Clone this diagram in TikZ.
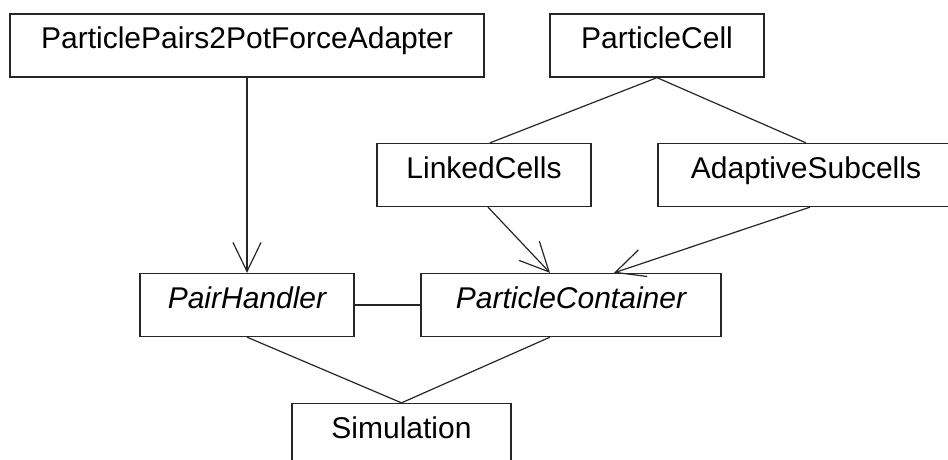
\documentclass[tikz,border=0pt]{standalone}
\usepackage{fontspec}
\setmainfont{Liberation Sans}
\usetikzlibrary{arrows.meta}
\begin{document}
\begin{tikzpicture}[x=1pt,y=-1pt,
  cls/.style={draw=black!85,line width=1.3pt,inner sep=0pt,minimum height=63pt,
    font=\fontsize{30}{35}\selectfont,text height=0.8em,text depth=0.2em,fill=white},
  link/.style={draw=black!85,line width=1.2pt},
  dep/.style={link,-{Straight Barb[length=29pt,width=28pt,line width=1.2pt]}}]
\useasboundingbox (0,0) rectangle (948,460);
\clip (0,0) rectangle (948,460);
\node[cls,minimum width=474pt] (pp) at (247,45.5) {ParticlePairs2PotForceAdapter};
\node[cls,minimum width=214pt] (pcell) at (657,45.5) {ParticleCell};
\node[cls,minimum width=214pt] (lc) at (484,175) {LinkedCells};
\node[cls,minimum width=296pt] (as) at (806,175) {AdaptiveSubcells};
\node[cls,minimum width=214pt] (ph) at (247,305) {\itshape PairHandler};
\node[cls,minimum width=300pt] (pcont) at (571,305) {\itshape ParticleContainer};
\node[cls,minimum width=219pt] (sim) at (401.5,435) {Simulation};
\draw[dep] (pp.south) -- (ph.north);
\draw[link] (pcell.south) -- ([xshift=6pt]lc.north);
\draw[link] (pcell.south) -- (as.north);
\draw[dep] ([xshift=4pt]lc.south) -- ([xshift=-21pt]pcont.north);
\draw[dep] ([xshift=4pt]as.south) -- ([xshift=43pt]pcont.north);
\draw[link] (ph.east) -- (pcont.west);
\draw[link] (ph.south) -- (sim.north);
\draw[link] ([xshift=-21pt]pcont.south) -- (sim.north);
\end{tikzpicture}
\end{document}
